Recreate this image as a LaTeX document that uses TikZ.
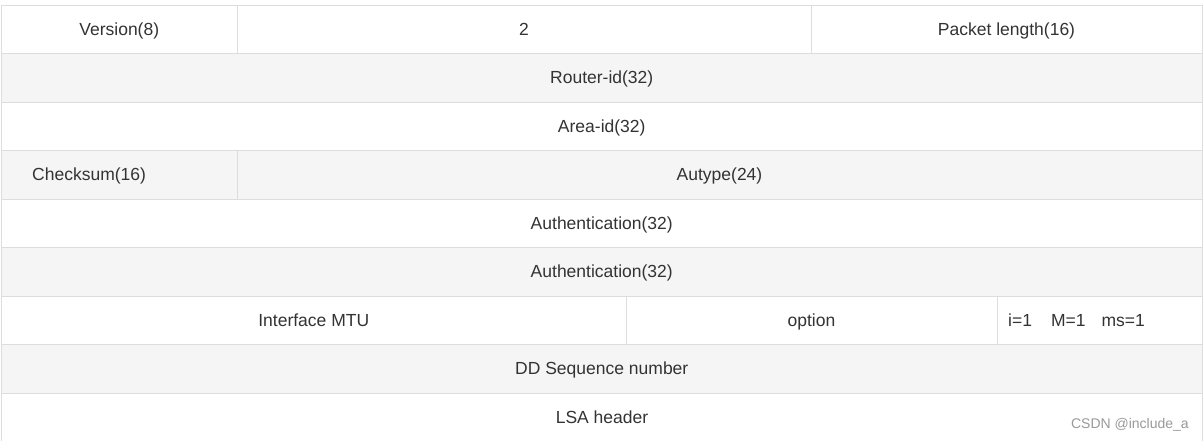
\documentclass[tikz,border=0pt]{standalone}
\usepackage{fontspec}
\setmainfont{Liberation Sans}
\definecolor{gridc}{HTML}{DDDDDD}
\definecolor{shade}{HTML}{F5F5F5}
\definecolor{txt}{HTML}{333333}
\definecolor{wm}{HTML}{999999}
\begin{document}
\begin{tikzpicture}[x=1pt,y=-1pt,
  cellbox/.style={draw=gridc, line width=1pt, inner sep=0pt, outer sep=0pt},
  label/.style={text=txt, font=\fontsize{17.5}{20}\selectfont, inner sep=0pt, anchor=base},
  wmark/.style={text=wm, font=\fontsize{14}{16}\selectfont, inner sep=0pt}]
\useasboundingbox (0,0) rectangle (1204,440);
\begin{scope}
\clip (0,0) rectangle (1204,440);
% row backgrounds and cell borders
\newcommand{\mycell}[6]{%
  \path[cellbox, fill=#6] (#2,#3) rectangle (#4,#5) node[pos=0.5, inner sep=0pt] (#1) {};}
\mycell{ver}{1.5}{5}{237}{53.5}{white}
\mycell{two}{237}{5}{811}{53.5}{white}
\mycell{plen}{811}{5}{1202}{53.5}{white}
\mycell{rid}{1.5}{53.5}{1202}{102}{shade}
\mycell{aid}{1.5}{102}{1202}{150.5}{white}
\mycell{chk}{1.5}{150.5}{237}{199}{shade}
\mycell{aut}{237}{150.5}{1202}{199}{shade}
\mycell{auth}{1.5}{199}{1202}{247.5}{white}
\mycell{authb}{1.5}{247.5}{1202}{296}{shade}
\mycell{mtu}{1.5}{296}{626}{344.5}{white}
\mycell{opt}{626}{296}{997}{344.5}{white}
\mycell{flags}{997}{296}{1202}{344.5}{white}
\mycell{dd}{1.5}{344.5}{1202}{393}{shade}
\mycell{lsa}{1.5}{393}{1202}{441.5}{white}
\end{scope}
% texts (baseline about 6px below each row's centre)
\node[label] (tver) at ([yshift=-6pt]ver) {Version(8)};
\node[label] (ttwo) at ([yshift=-6pt]two) {2};
\node[label] (tplen) at ([yshift=-6pt]plen) {Packet length(16)};
\node[label] (trid) at ([yshift=-6pt]rid) {Router-id(32)};
\node[label] (taid) at ([yshift=-6pt]aid) {Area-id(32)};
\node[label, anchor=base west] (tchk) at (32,180.75) {Checksum(16)};
\node[label] (taut) at ([yshift=-6pt]aut) {Autype(24)};
\node[label] (tauth) at ([yshift=-6pt]auth) {Authentication(32)};
\node[label] (tauthb) at ([yshift=-6pt]authb) {Authentication(32)};
\node[label] (tmtu) at ([yshift=-6pt]mtu) {Interface MTU};
\node[label] (topt) at ([yshift=-6pt]opt) {option};
\node[label, anchor=base west] (tflags) at (1008,326.25) {i=1\hspace{19pt}M=1\hspace{16pt}ms=1};
\node[label] (tdd) at ([yshift=-6pt]dd) {DD Sequence number};
\node[label] (tlsa) at (602,423) {LSA header};
\node[wmark, anchor=base east] (wm) at (1189,428) {CSDN @include\_a};
\end{tikzpicture}
\end{document}
